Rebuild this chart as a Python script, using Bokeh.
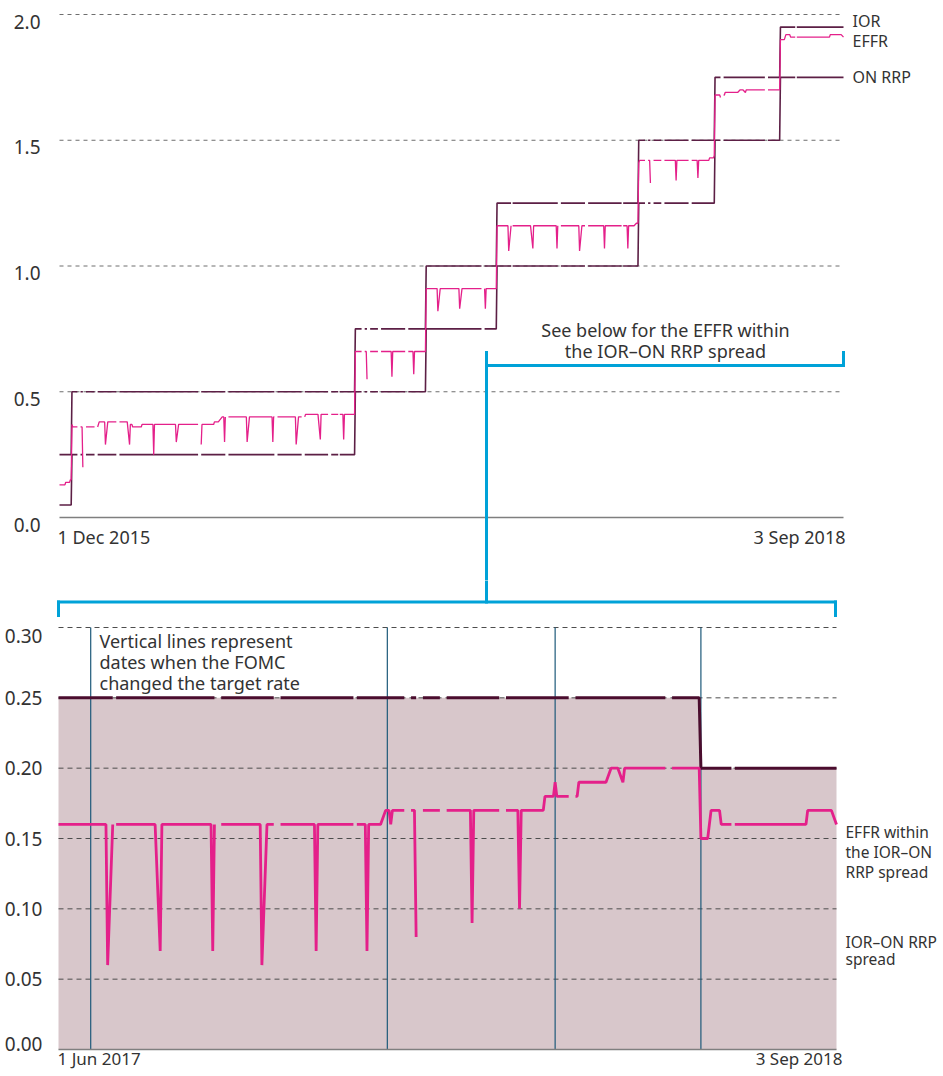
import numpy as np
import pandas as pd
from pandas.tseries.offsets import BDay
from bokeh.plotting import figure
from bokeh.models import (ColumnDataSource, Range1d, LinearAxis, DatetimeAxis, FixedTicker,
                          NumeralTickFormatter, Label, Arrow)
from bokeh.layouts import column
from bokeh.embed import file_html
from bokeh.resources import INLINE

# ------------------------------------------------------------------ data
top_start, top_end = "2015-12-01", "2018-09-03"
bot_start, bot_end = "2017-06-01", "2018-09-03"

policy_dates = ["2015-12-01", "2015-12-16", "2015-12-17", "2016-12-14", "2016-12-15",
                "2017-03-15", "2017-03-16", "2017-06-14", "2017-06-15", "2017-12-13",
                "2017-12-14", "2018-03-21", "2018-03-22", "2018-06-13", "2018-06-14",
                "2018-09-03"]
ior_values = [0.25, 0.25, 0.50, 0.50, 0.75, 0.75, 1.00, 1.00, 1.25, 1.25,
              1.50, 1.50, 1.75, 1.75, 1.95, 1.95]
onrrp_values = [0.05, 0.05, 0.25, 0.25, 0.50, 0.50, 0.75, 0.75, 1.00, 1.00,
                1.25, 1.25, 1.50, 1.50, 1.75, 1.75]

effr_dates = ["2015-12-01", "2015-12-08", "2015-12-09", "2015-12-14", "2015-12-15", "2015-12-16",
              "2015-12-17", "2015-12-18", "2015-12-30", "2015-12-31", "2016-01-04", "2016-01-19",
              "2016-01-21", "2016-01-28", "2016-01-29", "2016-02-01", "2016-02-26", "2016-02-29",
              "2016-03-01", "2016-03-03", "2016-03-04", "2016-03-15", "2016-03-16", "2016-03-30",
              "2016-03-31", "2016-04-01", "2016-04-28", "2016-04-29", "2016-05-02", "2016-05-27",
              "2016-05-31", "2016-06-01", "2016-06-16", "2016-06-17", "2016-06-22", "2016-06-27",
              "2016-06-29", "2016-06-30", "2016-07-01", "2016-07-28", "2016-07-29", "2016-08-01",
              "2016-08-30", "2016-08-31", "2016-09-01", "2016-09-29", "2016-09-30", "2016-10-03",
              "2016-10-11", "2016-10-12", "2016-10-28", "2016-10-31", "2016-11-01", "2016-11-29",
              "2016-11-30", "2016-12-01", "2016-12-14", "2016-12-15", "2016-12-29", "2016-12-30",
              "2017-01-03", "2017-01-30", "2017-01-31", "2017-02-01", "2017-02-27", "2017-02-28",
              "2017-03-01", "2017-03-15", "2017-03-16", "2017-03-30", "2017-03-31", "2017-04-03",
              "2017-04-27", "2017-04-28", "2017-05-01", "2017-05-30", "2017-05-31", "2017-06-01",
              "2017-06-14", "2017-06-15", "2017-06-29", "2017-06-30", "2017-07-03", "2017-07-28",
              "2017-07-31", "2017-08-01", "2017-08-30", "2017-08-31", "2017-09-01", "2017-09-28",
              "2017-09-29", "2017-10-02", "2017-10-30", "2017-10-31", "2017-11-01", "2017-11-29",
              "2017-11-30", "2017-12-01", "2017-12-08", "2017-12-11", "2017-12-13", "2017-12-14",
              "2017-12-15", "2017-12-28", "2017-12-29", "2018-01-02", "2018-01-30", "2018-01-31",
              "2018-02-01", "2018-02-27", "2018-02-28", "2018-03-01", "2018-03-14", "2018-03-15",
              "2018-03-20", "2018-03-21", "2018-03-22", "2018-03-28", "2018-03-29", "2018-04-02",
              "2018-04-03", "2018-04-04", "2018-04-20", "2018-04-23", "2018-04-27", "2018-04-30",
              "2018-05-01", "2018-06-13", "2018-06-14", "2018-06-19", "2018-06-21", "2018-06-26",
              "2018-06-27", "2018-08-16", "2018-08-17", "2018-08-31", "2018-09-03"]
effr_values = [0.13, 0.13, 0.14, 0.14, 0.15, 0.15,
               0.37, 0.36, 0.36, 0.20, 0.36, 0.36,
               0.38, 0.38, 0.29, 0.38, 0.38, 0.29,
               0.37, 0.37, 0.36, 0.36, 0.37, 0.37,
               0.25, 0.37, 0.37, 0.30, 0.37, 0.37,
               0.29, 0.37, 0.37, 0.38, 0.38, 0.40,
               0.40, 0.30, 0.40, 0.40, 0.30, 0.40,
               0.40, 0.30, 0.40, 0.40, 0.29, 0.40,
               0.40, 0.41, 0.41, 0.31, 0.41, 0.41,
               0.31, 0.41, 0.41, 0.66, 0.66, 0.55,
               0.66, 0.66, 0.56, 0.66, 0.66, 0.57,
               0.66, 0.66, 0.91, 0.91, 0.82, 0.91,
               0.91, 0.83, 0.91, 0.91, 0.83, 0.91,
               0.91, 1.16, 1.16, 1.06, 1.16, 1.16,
               1.07, 1.16, 1.16, 1.07, 1.16, 1.16,
               1.06, 1.16, 1.16, 1.07, 1.16, 1.16,
               1.07, 1.16, 1.16, 1.17, 1.17, 1.41,
               1.42, 1.42, 1.33, 1.42, 1.42, 1.34,
               1.42, 1.42, 1.35, 1.42, 1.42, 1.43,
               1.43, 1.44, 1.68, 1.68, 1.67, 1.68,
               1.68, 1.69, 1.69, 1.70, 1.70, 1.69,
               1.70, 1.70, 1.90, 1.90, 1.92, 1.92,
               1.91, 1.91, 1.92, 1.92, 1.91]

spread_dates = ["2017-06-01", "2018-06-14", "2018-06-15", "2018-09-03"]
spread_values = [0.25, 0.25, 0.20, 0.20]

within_dates = ["2017-06-01", "2017-06-29", "2017-06-30", "2017-07-03", "2017-07-28", "2017-07-31",
                "2017-08-01", "2017-08-30", "2017-08-31", "2017-09-01", "2017-09-28", "2017-09-29",
                "2017-10-02", "2017-10-30", "2017-10-31", "2017-11-01", "2017-11-29", "2017-11-30",
                "2017-12-01", "2017-12-08", "2017-12-11", "2017-12-13", "2017-12-14", "2017-12-15",
                "2017-12-28", "2017-12-29", "2018-01-02", "2018-01-30", "2018-01-31", "2018-02-01",
                "2018-02-27", "2018-02-28", "2018-03-01", "2018-03-14", "2018-03-15", "2018-03-20",
                "2018-03-21", "2018-03-22", "2018-03-29", "2018-04-02", "2018-04-03", "2018-04-04",
                "2018-04-20", "2018-04-23", "2018-04-27", "2018-04-30", "2018-05-01", "2018-06-14",
                "2018-06-15", "2018-06-19", "2018-06-21", "2018-06-26", "2018-06-27", "2018-08-16",
                "2018-08-17", "2018-08-31", "2018-09-03"]
within_values = [0.16, 0.16, 0.06, 0.16, 0.16, 0.07,
                 0.16, 0.16, 0.07, 0.16, 0.16, 0.06,
                 0.16, 0.16, 0.07, 0.16, 0.16, 0.07,
                 0.16, 0.16, 0.17, 0.17, 0.16, 0.17,
                 0.17, 0.08, 0.17, 0.17, 0.09, 0.17,
                 0.17, 0.10, 0.17, 0.17, 0.18, 0.18,
                 0.19, 0.18, 0.18, 0.18, 0.18, 0.19,
                 0.19, 0.20, 0.20, 0.19, 0.20, 0.20,
                 0.15, 0.15, 0.17, 0.17, 0.16, 0.16,
                 0.17, 0.17, 0.16]

fomc_dates = ["2017-06-20", "2017-12-12", "2018-03-21", "2018-06-15"]

# days with no published observation (breaks in the lines)
holiday_gaps = ["2015-12-25", "2016-01-01", "2016-01-18", "2016-02-15", "2016-05-30",
                "2016-07-04", "2016-09-05", "2016-10-10", "2016-11-11", "2016-11-24",
                "2016-12-26", "2017-01-02", "2017-01-16", "2017-02-20", "2017-05-29",
                "2017-07-04", "2017-09-04", "2017-10-09", "2017-11-23", "2017-12-25",
                "2018-01-01", "2018-01-15", "2018-02-19", "2018-03-30", "2018-05-28",
                "2018-07-04"]

top_y_ticks = [0.0, 0.5, 1.0, 1.5, 2.0]
top_grid_ticks = [0.5, 1.0, 1.5, 2.0]
bot_y_ticks = [0.00, 0.05, 0.10, 0.15, 0.20, 0.25, 0.30]
bot_grid_ticks = [0.05, 0.10, 0.15, 0.20, 0.25, 0.30]

top_date_labels = ["1 Dec 2015", "3 Sep 2018"]
bot_date_labels = ["1 Jun 2017", "3 Sep 2018"]
top_series_labels = ["IOR", "EFFR", "ON RRP"]
top_note = ["See below for the EFFR within", "the IOR\u2013ON RRP spread"]
bot_note = ["Vertical lines represent", "dates when the FOMC", "changed the target rate"]
bot_label_effr = ["EFFR within", "the IOR\u2013ON", "RRP spread"]
bot_label_spread = ["IOR\u2013ON RRP", "spread"]

# ------------------------------------------------------------------ style / layout
FONT = "Noto Sans"
TXT = "#333333"
RATE = "#5c1f45"
EFFR = "#e4208a"
FILL = "#d8c7cb"
SPREAD = "#4b0d2e"
FOMC = "#1d5a7a"
BRACKET = "#00a2d8"
W = 940
H_TOP = 580
H_BOT = 492


def ms(s):
    return pd.Timestamp(s).value / 1e6


class PixelMap:
    """linear map between data values and pixels of a figure whose frame fills its canvas"""
    def __init__(self, xv0, xp0, xv1, xp1, yv0, yp0, yv1, yp1, width, height):
        self.kx = (xv1 - xv0) / (xp1 - xp0)
        self.ky = (yv1 - yv0) / (yp1 - yp0)
        self.xv0, self.xp0, self.yv0, self.yp0 = xv0, xp0, yv0, yp0
        self.w, self.h = width, height

    def x(self, px):
        return self.xv0 + (px - self.xp0) * self.kx

    def y(self, py):
        return self.yv0 + (py - self.yp0) * self.ky

    def x_range(self):
        return Range1d(self.x(0), self.x(self.w))

    def y_range(self, shift_px=0):
        return Range1d(self.y(self.h - shift_px), self.y(0 - shift_px))


def break_at_gaps(dates, values, gaps):
    d = [pd.Timestamp(s) for s in dates]
    g = sorted(pd.Timestamp(s) for s in gaps)
    xs, ys = [], []
    for i in range(len(d)):
        xs.append(d[i]); ys.append(values[i])
        if i + 1 < len(d):
            for h in g:
                if d[i] < h < d[i + 1]:
                    if values[i] == values[i + 1]:
                        before, after = h - BDay(1), h + BDay(1)
                        if before > xs[-1]:
                            xs.append(before); ys.append(values[i])
                        xs.append(h); ys.append(np.nan)
                        if after < d[i + 1]:
                            xs.append(after); ys.append(values[i])
                    else:
                        xs.append(h); ys.append(np.nan)
    return ColumnDataSource(data=dict(x=pd.to_datetime(xs), y=np.array(ys, dtype=float)))


def text_px(p, m, px, py, text, size, align="left"):
    p.add_layout(Label(x=m.x(px), y=m.y(py), text=text, text_font=FONT, text_font_size=size,
                       text_color=TXT, text_align=align, text_baseline="middle"))


def seg_px(p, m, px0, py0, px1, py1):
    p.add_layout(Arrow(start=None, end=None, x_start=m.x(px0), y_start=m.y(py0),
                       x_end=m.x(px1), y_end=m.y(py1),
                       line_color=BRACKET, line_width=3, line_cap="square"))


def base_figure(m):
    p = figure(width=W, height=m.h, x_axis_type="datetime",
               x_axis_location=None, y_axis_location=None, title=None,
               x_range=m.x_range(), y_range=m.y_range(),
               toolbar_location=None, output_backend="svg", min_border=0)
    p.outline_line_color = None
    p.grid.visible = False
    return p


def y_axis(p, ticks, fmt, standoff, x_at, range_name="default"):
    ax = LinearAxis(y_range_name=range_name, fixed_location=x_at,
                    ticker=FixedTicker(ticks=ticks), formatter=NumeralTickFormatter(format=fmt),
                    axis_line_color=None, major_tick_line_color=None, minor_tick_line_color=None,
                    major_label_standoff=standoff, major_label_text_font=FONT,
                    major_label_text_font_size="19px", major_label_text_color=TXT)
    p.add_layout(ax, "left")


def x_axis(p, start, end):
    ax = DatetimeAxis(fixed_location=0, bounds=(ms(start), ms(end)), ticker=FixedTicker(ticks=[]),
                      axis_line_color="#7f7f7f", axis_line_width=1.5,
                      major_tick_line_color=None, minor_tick_line_color=None)
    p.add_layout(ax, "below")


# ------------------------------------------------------------------ top panel
mt = PixelMap(ms(top_start), 59, ms(top_end), 843, 0.0, 517, 2.0, 14, W, H_TOP)
top = base_figure(mt)
top.extra_y_ranges = {"ylab": mt.y_range(shift_px=7)}

gsrc = ColumnDataSource(data=dict(y=top_grid_ticks))
top.segment(x0=ms(top_start), x1=ms(top_end), y0="y", y1="y", source=gsrc,
            line_color="#6e6e6e", line_dash="4 4", line_width=1)
y_axis(top, top_y_ticks, "0.0", 13, ms(top_start), "ylab")
x_axis(top, top_start, top_end)

top.line("x", "y", source=break_at_gaps(policy_dates, onrrp_values, holiday_gaps),
         line_color=RATE, line_width=1.6)
top.line("x", "y", source=break_at_gaps(policy_dates, ior_values, holiday_gaps),
         line_color=RATE, line_width=1.6)
top.line("x", "y", source=break_at_gaps(effr_dates, effr_values, holiday_gaps),
         line_color=EFFR, line_width=1.3)

text_px(top, mt, 57, 536, top_date_labels[0], "18px", "left")
text_px(top, mt, 845, 536, top_date_labels[1], "18px", "right")
for txt, py in zip(top_series_labels, [20, 40, 76]):
    text_px(top, mt, 852, py, txt, "16px", "left")
for txt, py in zip(top_note, [329, 350]):
    text_px(top, mt, 665, py, txt, "18px", "center")

# bracket, upper part
x_conn = 486
seg_px(top, mt, x_conn, 352, x_conn, H_TOP + 20)
seg_px(top, mt, x_conn, 365, 843, 365)
seg_px(top, mt, 843, 365, 843, 352)

# ------------------------------------------------------------------ bottom panel
OFF = H_TOP
mb = PixelMap(ms(bot_start), 58, ms(bot_end), 836, 0.0, 1049 - OFF, 0.30, 627 - OFF, W, H_BOT)
bot = base_figure(mb)
bot.extra_y_ranges = {"lab_top": mb.y_range(shift_px=8), "lab_bot": mb.y_range(shift_px=-6)}

fill_src = ColumnDataSource(data=dict(x=pd.to_datetime(spread_dates), y=spread_values))
bot.varea(x="x", y1=0, y2="y", source=fill_src, fill_color=FILL)
gsrc2 = ColumnDataSource(data=dict(y=bot_grid_ticks))
bot.segment(x0=ms(bot_start), x1=ms(bot_end), y0="y", y1="y", source=gsrc2,
            line_color="#4d4d4d", line_dash="5 4", line_width=1)
fomc_src = ColumnDataSource(data=dict(x=pd.to_datetime(fomc_dates)))
bot.segment(x0="x", y0=0, x1="x", y1=bot_y_ticks[-1], source=fomc_src,
            line_color=FOMC, line_width=1.2)
bot.line("x", "y", source=break_at_gaps(spread_dates, spread_values, holiday_gaps),
         line_color=SPREAD, line_width=3)
bot.line("x", "y", source=break_at_gaps(within_dates, within_values, holiday_gaps),
         line_color=EFFR, line_width=2.8)

y_axis(bot, bot_y_ticks[1:-1], "0.00", 10, ms(bot_start))
y_axis(bot, bot_y_ticks[-1:], "0.00", 10, ms(bot_start), "lab_top")
y_axis(bot, bot_y_ticks[:1], "0.00", 10, ms(bot_start), "lab_bot")
x_axis(bot, bot_start, bot_end)

text_px(bot, mb, 57, 1058 - OFF, bot_date_labels[0], "17px", "left")
text_px(bot, mb, 842, 1058 - OFF, bot_date_labels[1], "17px", "right")
for txt, py in zip(bot_note, [640, 661, 682]):
    text_px(bot, mb, 99, py - OFF, txt, "18px", "left")
for txt, py in zip(bot_label_effr, [831, 851, 871]):
    text_px(bot, mb, 845, py - OFF, txt, "15.5px", "left")
for txt, py in zip(bot_label_spread, [941, 958]):
    text_px(bot, mb, 845, py - OFF, txt, "15.5px", "left")

# bracket, lower part
seg_px(bot, mb, x_conn, -20, x_conn, 601.5 - OFF)
seg_px(bot, mb, 58, 601.5 - OFF, 835, 601.5 - OFF)
seg_px(bot, mb, 58, 601.5 - OFF, 58, 615 - OFF)
seg_px(bot, mb, 835, 601.5 - OFF, 835, 615 - OFF)

layout = column(top, bot, spacing=0)
open("out.html", "w").write(file_html(layout, INLINE))
